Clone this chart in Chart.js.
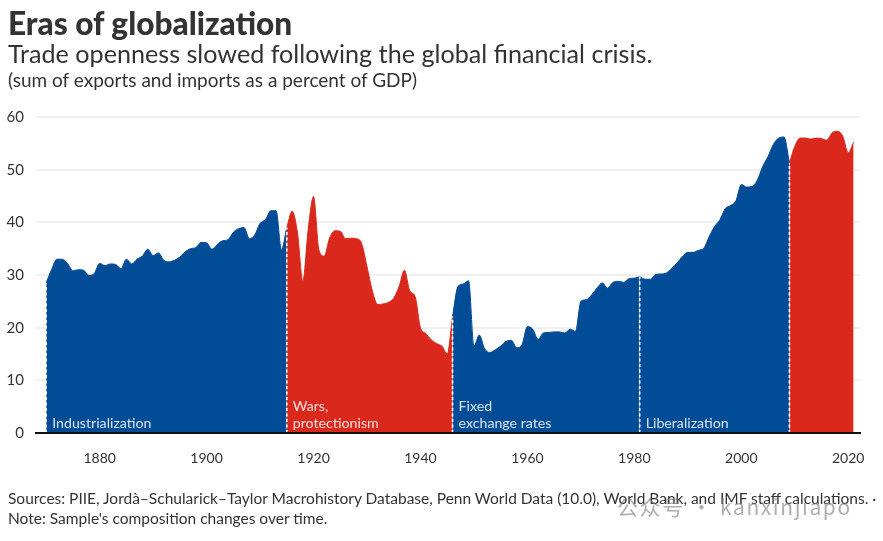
<!DOCTYPE html>
<html>
<head>
<meta charset="utf-8">
<title>Eras of globalization</title>
<script src="https://cdn.jsdelivr.net/npm/chart.js@4"></script>
<style>
  body { margin: 0; background: #fff; font-family: Lato, sans-serif; color: #333; }
  #wrap { position: relative; width: 883px; height: 541px; overflow: hidden; }
  canvas { position: absolute; left: 0; top: 0; }
  .txt { position: absolute; left: 8px; white-space: nowrap; margin: 0; font-weight: 400; }
  #title { top: 5px; font-size: 31.6px; line-height: 37px; font-weight: 900; }
  #subtitle { top: 38px; font-size: 25.15px; line-height: 31px; }
  #unit { top: 69px; font-size: 19px; line-height: 21px; }
  #sources { top: 488px; font-size: 15.5px; line-height: 20px; }
  #mark { position: absolute; left: 617px; top: 491px; font-family: "Noto Sans CJK SC", sans-serif; font-size: 21px; letter-spacing: 1.6px; color: rgba(120,120,120,.6); white-space: nowrap; }
</style>
</head>
<body>
<div id="wrap">
  <canvas id="grafico" width="883" height="541"></canvas>
  <h1 class="txt" id="title">Eras of globalization</h1>
  <p class="txt" id="subtitle">Trade openness slowed following the global financial crisis.</p>
  <p class="txt" id="unit">(sum of exports and imports as a percent of GDP)</p>
  <p class="txt" id="sources">Sources: PIIE, Jordà–Schularick–Taylor Macrohistory Database, Penn World Data (10.0), World Bank, and IMF staff calculations. ·<br>Note: Sample's composition changes over time.</p>
  <div id="mark">公众号 · kanxinjiapo</div>
</div>
<script>
// Values, one list per era, one value per year
const industrialization = [28.5, 31, 33, 33, 32.2, 30.8, 31, 30.9, 29.9, 30.3, 32.2, 31.8, 32.1, 32, 31.2, 33,
  32.1, 33, 33.6, 34.9, 33.7, 34.2, 32.8, 32.5, 32.8, 33.4, 34.4, 35, 35.2, 36.2, 36.1, 34.9, 35.8, 36.5, 36.7,
  38.1, 38.8, 39, 36.9, 37.6, 39.8, 40.5, 42.2, 42.2, 34.8, 39];
const wars = [39, 42.1, 38, 28.8, 38.6, 44.9, 34.8, 33.6, 37, 38.4, 38.3, 36.9, 37, 36.9, 36, 31.6, 27, 24.4,
  24.5, 24.8, 25.6, 27.8, 30.9, 27, 25.9, 20, 18.9, 17.7, 17, 16.5, 15, 22.1];
const fixedRates = [22.1, 27.8, 28.3, 28.9, 16.5, 18.6, 16, 15.3, 15.8, 16.5, 17.4, 17.6, 16.2, 16.8, 20.2, 19.7,
  17.8, 19, 19.1, 19.2, 19.2, 19, 19.7, 19.3, 25, 25.3, 26.2, 27.5, 28.5, 27.5, 28.6, 28.8, 28.6, 29.3, 29.4, 29.7];
const liberalization = [29.7, 29.2, 29.2, 30.1, 30.2, 30.4, 31.3, 32.3, 33.5, 34.3, 34.3, 34.7, 35.1, 37.3, 39.2,
  40.5, 42.6, 43.2, 44.1, 47.2, 46.7, 46.8, 48, 50.6, 52.5, 54.8, 56, 56.2, 51.3];
const slowdown = [51.3, 54.4, 56, 56, 55.8, 56, 55.9, 55.6, 57, 57.3, 56.3, 53.2, 55.2];

const eraStarts = [1870, 1915, 1946, 1981, 2009];
const eraSeries = [industrialization, wars, fixedRates, liberalization, slowdown];
const eraColors = ["#004C97", "#DA291C", "#004C97", "#004C97", "#DA291C"];
const eraLabels = [["Industrialization"], ["Wars,", "protectionism"], ["Fixed", "exchange rates"], ["Liberalization"], []];

const xTicks = [1880, 1900, 1920, 1940, 1960, 1980, 2000, 2020];

// Dotted lines at the start of each era, plus the era names
const erasPlugin = {
  id: "eras",
  afterDatasetsDraw(chart) {
    const { ctx, scales: { x, y } } = chart;
    ctx.save();
    eraStarts.forEach((year, i) => {
      const px = x.getPixelForValue(year);
      ctx.strokeStyle = "#fff";
      ctx.lineWidth = 1.6;
      ctx.setLineDash([3, 2.5]);
      ctx.beginPath();
      ctx.moveTo(px, y.getPixelForValue(0));
      ctx.lineTo(px, y.getPixelForValue(eraSeries[i][0]));
      ctx.stroke();

      ctx.setLineDash([]);
      ctx.fillStyle = "rgba(255,255,255,.85)";
      ctx.font = "14.2px Lato";
      ctx.textBaseline = "alphabetic";
      const lines = eraLabels[i];
      lines.forEach((line, n) => {
        ctx.fillText(line, px + 6, 428 - (lines.length - 1 - n) * 17);
      });
    });
    ctx.restore();
  }
};

new Chart(document.getElementById("grafico"), {
  type: "line",
  data: {
    datasets: eraSeries.map((serie, i) => ({
      data: serie.map((valor, n) => ({ x: eraStarts[i] + n, y: valor })),
      borderColor: eraColors[i],
      backgroundColor: eraColors[i],
      borderWidth: 1,
      pointRadius: 0,
      fill: "origin",
      cubicInterpolationMode: "monotone"
    }))
  },
  plugins: [erasPlugin],
  options: {
    responsive: false,
    animation: false,
    layout: { padding: { top: 117, right: 23, bottom: 78, left: 0 } },
    plugins: { legend: { display: false }, tooltip: { enabled: false } },
    scales: {
      x: {
        type: "linear",
        min: 1868.1,
        max: 2022.2,
        afterBuildTicks: (scale) => { scale.ticks = xTicks.map((v) => ({ value: v })); },
        afterFit: (scale) => { scale.height = 30; },
        grid: { display: false },
        border: { display: true, color: "#111", width: 2, z: 1 },
        ticks: { color: "#333", font: { family: "Lato", size: 14 }, padding: 9, maxRotation: 0, autoSkip: false,
          callback: (v) => String(v) }
      },
      y: {
        min: 0,
        max: 60,
        afterFit: (scale) => { scale.width = 36; },
        grid: { color: "#f0f0f0", lineWidth: 2, drawTicks: false },
        border: { display: false },
        ticks: { stepSize: 10, color: "#333", font: { family: "Lato", size: 15 }, padding: 12 }
      }
    }
  }
});
</script>
</body>
</html>
